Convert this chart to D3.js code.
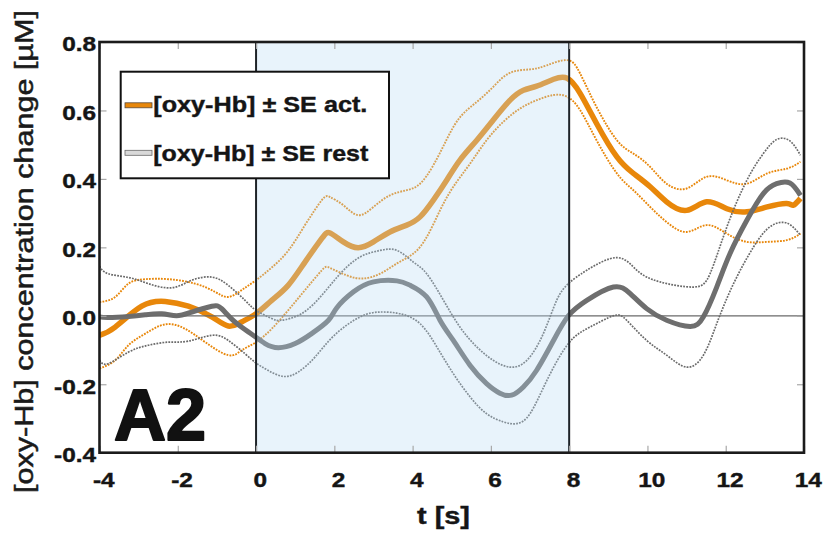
<!DOCTYPE html>
<html>
<head>
<meta charset="utf-8">
<script src="https://cdn.jsdelivr.net/npm/d3@7"></script>
<style>
  body { margin: 0; background: #fff; }
  svg { display: block; }
</style>
</head>
<body>
<svg id="chart" width="825" height="534"></svg>
<script>
// Axis ticks
const xTickValues = [-4, -2, 0, 2, 4, 6, 8, 10, 12, 14];
const xTickLabels = ["-4", "-2", "0", "2", "4", "6", "8", "10", "12", "14"];
const yTickValues = [-0.4, -0.2, 0, 0.2, 0.4, 0.6, 0.8];
const yTickLabels = ["-0.4", "-0.2", "0.0", "0.2", "0.4", "0.6", "0.8"];

// Stimulation window [s]
const stimulusWindow = [0, 8];

// Labels
const seriesNames = ["[oxy-Hb] \u00B1 SE act.", "[oxy-Hb] \u00B1 SE rest"];
const panelLabel = "A2";
const xTitle = "t [s]";
const yTitle = "[oxy-Hb] concentration change [\u00B5M]";

// Activation condition: [t (s), concentration change (µM)]
const actMean = [[-4.0,-0.057],[-3.6,-0.033],[-2.92,0.028],[-2.32,0.042],[-1.73,0.028],[-1.13,-0.003],[-0.71,-0.03],[-0.37,-0.018],[0.0,0.006],[0.4,0.045],[0.82,0.089],[1.25,0.157],[1.68,0.226],[1.89,0.242],[2.23,0.216],[2.61,0.199],[3.0,0.216],[3.42,0.245],[3.85,0.265],[4.19,0.289],[4.53,0.338],[4.87,0.396],[5.21,0.455],[5.64,0.513],[6.06,0.572],[6.49,0.63],[6.83,0.659],[7.17,0.671],[7.6,0.691],[7.95,0.694],[8.28,0.65],[8.7,0.562],[9.22,0.464],[9.64,0.416],[10.07,0.377],[10.49,0.333],[11.0,0.308],[11.51,0.333],[12.03,0.313],[12.54,0.304],[13.06,0.318],[13.56,0.328],[13.73,0.323],[13.91,0.343]];
const actUpper = [[-4.0,0.04],[-3.6,0.055],[-3.26,0.094],[-2.83,0.107],[-2.24,0.107],[-1.56,0.094],[-1.05,0.07],[-0.71,0.055],[-0.37,0.075],[0.0,0.104],[0.4,0.141],[0.82,0.19],[1.25,0.265],[1.68,0.338],[1.89,0.347],[2.23,0.323],[2.61,0.294],[3.0,0.318],[3.42,0.352],[3.85,0.367],[4.19,0.386],[4.53,0.44],[4.87,0.515],[5.21,0.58],[5.64,0.625],[6.06,0.669],[6.49,0.71],[7.0,0.72],[7.43,0.732],[7.95,0.747],[8.28,0.708],[8.7,0.61],[9.22,0.513],[9.64,0.474],[10.07,0.435],[10.49,0.386],[11.0,0.372],[11.51,0.406],[12.03,0.396],[12.54,0.386],[13.06,0.416],[13.56,0.43],[13.91,0.45]];
const actLower = [[-4.0,-0.154],[-3.6,-0.13],[-3.26,-0.086],[-2.83,-0.052],[-2.32,-0.025],[-1.81,-0.038],[-1.3,-0.077],[-0.71,-0.115],[-0.37,-0.101],[0.0,-0.077],[0.4,-0.038],[0.82,0.016],[1.25,0.075],[1.68,0.133],[1.89,0.14],[2.32,0.118],[2.74,0.109],[3.17,0.123],[3.6,0.153],[4.02,0.182],[4.36,0.23],[4.7,0.308],[5.04,0.377],[5.47,0.445],[5.89,0.513],[6.32,0.567],[6.75,0.606],[7.17,0.63],[7.6,0.645],[7.95,0.64],[8.28,0.601],[8.7,0.513],[9.22,0.416],[9.64,0.367],[10.07,0.318],[10.49,0.274],[11.0,0.245],[11.51,0.265],[12.03,0.24],[12.54,0.216],[13.06,0.216],[13.56,0.221],[13.91,0.24]];

// Rest condition
const restMean = [[-4.0,-0.003],[-3.78,-0.005],[-3.26,-0.002],[-2.83,0.003],[-2.41,0.006],[-2.03,0.0],[-1.64,0.011],[-1.13,0.028],[-0.88,0.021],[-0.54,-0.018],[-0.11,-0.054],[0.23,-0.081],[0.57,-0.093],[1.0,-0.081],[1.42,-0.052],[1.85,-0.013],[2.06,0.023],[2.49,0.07],[3.0,0.099],[3.6,0.102],[3.94,0.089],[4.36,0.055],[4.7,-0.013],[5.04,-0.072],[5.47,-0.145],[5.89,-0.198],[6.23,-0.226],[6.53,-0.232],[6.83,-0.208],[7.17,-0.159],[7.6,-0.072],[7.98,0.0],[8.45,0.045],[9.13,0.084],[9.56,0.065],[9.98,0.021],[10.49,-0.013],[11.09,-0.031],[11.43,-0.003],[11.77,0.084],[12.11,0.182],[12.54,0.279],[12.96,0.357],[13.3,0.386],[13.64,0.388],[13.91,0.352]];
const restUpper = [[-4.0,0.145],[-3.78,0.123],[-3.26,0.112],[-2.75,0.094],[-2.15,0.082],[-1.64,0.104],[-1.13,0.113],[-0.71,0.089],[-0.28,0.045],[0.0,0.016],[0.4,-0.008],[0.65,-0.013],[1.16,0.006],[1.68,0.06],[2.15,0.123],[2.66,0.172],[3.17,0.191],[3.6,0.191],[4.02,0.157],[4.36,0.123],[4.79,0.045],[5.21,-0.033],[5.64,-0.091],[6.06,-0.13],[6.49,-0.15],[6.92,-0.13],[7.34,-0.052],[7.68,0.045],[7.98,0.094],[8.45,0.133],[9.22,0.17],[9.73,0.133],[10.32,0.099],[11.17,0.084],[11.6,0.123],[12.03,0.26],[12.54,0.396],[12.96,0.474],[13.3,0.515],[13.64,0.511],[13.91,0.469]];
const restLower = [[-4.0,-0.13],[-3.78,-0.14],[-3.26,-0.106],[-2.75,-0.086],[-2.24,-0.077],[-1.73,-0.074],[-1.13,-0.057],[-0.71,-0.072],[-0.28,-0.111],[0.0,-0.138],[0.3,-0.159],[0.69,-0.177],[1.08,-0.164],[1.51,-0.12],[2.0,-0.057],[2.66,-0.003],[3.17,0.011],[3.68,0.006],[4.19,-0.023],[4.62,-0.091],[5.04,-0.169],[5.47,-0.237],[5.89,-0.286],[6.32,-0.31],[6.66,-0.315],[7.0,-0.286],[7.43,-0.189],[7.98,-0.081],[8.53,-0.033],[9.13,0.0],[9.47,-0.013],[9.98,-0.072],[10.49,-0.115],[11.0,-0.15],[11.43,-0.115],[11.77,-0.023],[12.2,0.094],[12.71,0.201],[13.13,0.26],[13.56,0.271],[13.91,0.235]];

// ---- drawing ----
const svg = d3.select("#chart");
const FONT = "'Liberation Sans', Arial, Helvetica, sans-serif";
const plot = { left: 99.5, right: 804, top: 42, bottom: 452.7 };
const TEXT_STRETCH = 1.25;

const x = d3.scaleLinear().domain([-4, 14]).range([plot.left, plot.right]);
const y = d3.scaleLinear().domain([-0.4, 0.8]).range([plot.bottom, plot.top]);

svg.append("defs").append("clipPath").attr("id", "plot-clip")
  .append("rect")
  .attr("x", plot.left).attr("y", plot.top)
  .attr("width", plot.right - plot.left).attr("height", plot.bottom - plot.top);

const line = d3.line()
  .x(d => x(d[0]))
  .y(d => y(d[1]))
  .curve(d3.curveNatural);

const ORANGE = "#e8870a";
const GREY = "#6e6e6e";

const curves = svg.append("g").attr("clip-path", "url(#plot-clip)");

// Activation: SE bounds then mean
[actUpper, actLower].forEach(s => {
  curves.append("path").datum(s).attr("d", line)
    .attr("fill", "none").attr("stroke", ORANGE)
    .attr("stroke-width", 1.9).attr("stroke-dasharray", "1.8,1.2");
});
curves.append("path").datum(actMean).attr("d", line)
  .attr("fill", "none").attr("stroke", ORANGE)
  .attr("stroke-width", 5.5).attr("stroke-linejoin", "round");

// Rest: SE bounds then mean
[restUpper, restLower].forEach(s => {
  curves.append("path").datum(s).attr("d", line)
    .attr("fill", "none").attr("stroke", "#6a6a6a")
    .attr("stroke-width", 1.7).attr("stroke-dasharray", "1.8,1.2");
});
curves.append("path").datum(restMean).attr("d", line)
  .attr("fill", "none").attr("stroke", GREY)
  .attr("stroke-width", 5).attr("stroke-linejoin", "round");

// Zero line
svg.append("line")
  .attr("x1", plot.left).attr("x2", plot.right)
  .attr("y1", y(0)).attr("y2", y(0))
  .attr("stroke", "#6a6a6a").attr("stroke-width", 1.3);

// Stimulation period, laid translucently over the traces
svg.append("rect")
  .attr("x", x(stimulusWindow[0])).attr("y", plot.top)
  .attr("width", x(stimulusWindow[1]) - x(stimulusWindow[0]))
  .attr("height", plot.bottom - plot.top)
  .attr("fill", "rgb(183,217,242)").attr("fill-opacity", 0.32);

// Onset / offset markers
stimulusWindow.forEach(t => {
  svg.append("line")
    .attr("x1", x(t)).attr("x2", x(t))
    .attr("y1", plot.top).attr("y2", plot.bottom)
    .attr("stroke", "#1e2328").attr("stroke-width", 2);
});

// Axes with inward ticks
function styleAxis(g) {
  g.select(".domain").remove();
  g.selectAll(".tick line").attr("stroke", "#a8a8a8").attr("stroke-width", 1.2);
  g.selectAll(".tick text")
    .attr("font-family", FONT).attr("font-weight", "bold")
    .attr("font-size", 19.5).attr("fill", "#151515")
    .attr("stroke", "#151515").attr("stroke-width", 0.4);
}

const xAxisBottom = svg.append("g")
  .attr("transform", `translate(0,${plot.bottom})`)
  .call(d3.axisBottom(x).tickValues(xTickValues)
    .tickFormat((d, i) => xTickLabels[i]).tickSize(-7));
styleAxis(xAxisBottom);
xAxisBottom.selectAll(".tick text")
  .attr("y", 34).attr("dy", null).attr("x", 3)
  .attr("transform", `scale(${TEXT_STRETCH},1)`);

svg.append("g")
  .attr("transform", `translate(0,${plot.top})`)
  .call(d3.axisTop(x).tickValues(xTickValues).tickFormat("").tickSize(-7))
  .call(styleAxis);

const yAxisLeft = svg.append("g")
  .attr("transform", `translate(${plot.left},0)`)
  .call(d3.axisLeft(y).tickValues(yTickValues)
    .tickFormat((d, i) => yTickLabels[i]).tickSize(-7));
styleAxis(yAxisLeft);
yAxisLeft.selectAll(".tick text")
  .attr("x", -3.5 / TEXT_STRETCH).attr("y", 8.8).attr("dy", null)
  .attr("transform", `scale(${TEXT_STRETCH},1)`);

svg.append("g")
  .attr("transform", `translate(${plot.right},0)`)
  .call(d3.axisRight(y).tickValues(yTickValues).tickFormat("").tickSize(-7))
  .call(styleAxis);

// Legend
const legend = svg.append("g");
legend.append("rect")
  .attr("x", 120.7).attr("y", 71.7).attr("width", 268.3).attr("height", 106.6)
  .attr("fill", "#fff").attr("stroke", "#111").attr("stroke-width", 2);
const legendRows = [
  { name: seriesNames[0], fill: ORANGE, stroke: "#5a4a3a", swatchY: 102.8, textY: 112.4, len: 214 },
  { name: seriesNames[1], fill: "#d9d9d9", stroke: "#6a6a6a", swatchY: 150.3, textY: 160.6, len: 215 }
];
legendRows.forEach(r => {
  legend.append("rect")
    .attr("x", 125).attr("y", r.swatchY).attr("width", 27).attr("height", 5)
    .attr("fill", r.fill).attr("stroke", r.stroke).attr("stroke-width", 0.8);
  legend.append("text")
    .attr("x", 153.3).attr("y", r.textY)
    .attr("font-family", FONT).attr("font-weight", "bold").attr("font-size", 21.5)
    .attr("fill", "#151515").attr("stroke", "#151515").attr("stroke-width", 0.4)
    .attr("textLength", r.len).attr("lengthAdjust", "spacingAndGlyphs")
    .text(r.name);
});

// Panel label
svg.append("text")
  .attr("x", 114).attr("y", 439.5)
  .attr("font-family", FONT).attr("font-weight", "bold").attr("font-size", 72)
  .attr("fill", "#111").attr("stroke", "#111").attr("stroke-width", 2.2)
  .attr("stroke-linejoin", "round")
  .text(panelLabel);

// Plot frame
svg.append("rect")
  .attr("x", plot.left).attr("y", plot.top)
  .attr("width", plot.right - plot.left).attr("height", plot.bottom - plot.top)
  .attr("fill", "none").attr("stroke", "#1b1b1b").attr("stroke-width", 2.6);

// Axis titles
svg.append("text")
  .attr("x", 417).attr("y", 524)
  .attr("font-family", FONT).attr("font-weight", "bold").attr("font-size", 24)
  .attr("fill", "#151515").attr("stroke", "#151515").attr("stroke-width", 0.4)
  .attr("textLength", 53).attr("lengthAdjust", "spacingAndGlyphs")
  .text(xTitle);

svg.append("text")
  .attr("transform", "translate(33,493) rotate(-90)")
  .attr("x", 0).attr("y", 0)
  .attr("font-family", FONT).attr("font-size", 25)
  .attr("fill", "#1a1a1a").attr("stroke", "#1a1a1a").attr("stroke-width", 0.5)
  .attr("textLength", 483).attr("lengthAdjust", "spacingAndGlyphs")
  .text(yTitle);
</script>
</body>
</html>
